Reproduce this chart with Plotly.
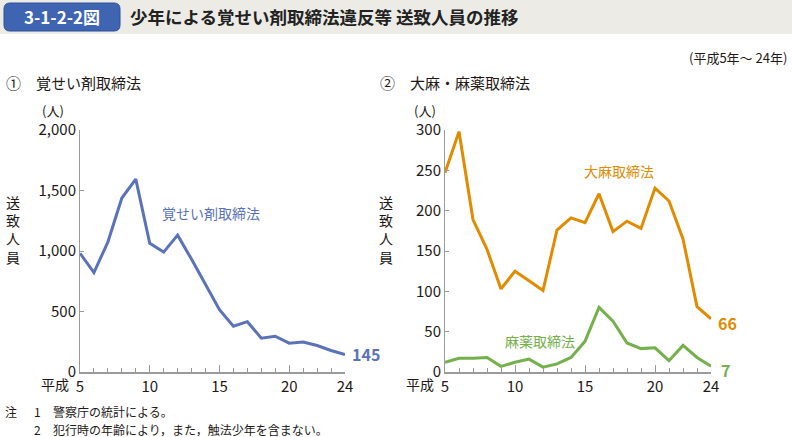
import plotly.graph_objects as go

years = list(range(5, 25))
stim = [981, 822, 1074, 1438, 1594, 1063, 991, 1131, 931, 726, 515, 378, 416, 279, 296, 238, 247, 219, 178, 145]
cannabis = [247, 298, 189, 152, 103, 125, 113, 101, 176, 191, 185, 221, 174, 187, 178, 228, 212, 165, 81, 66]
narcotics = [12, 17, 17, 18, 7, 12, 16, 6, 10, 18, 38, 80, 63, 36, 29, 30, 14, 33, 18, 7]
xtick_vals = [5, 10, 15, 20, 24]
xtick_text = ["5", "10", "15", "20", "24"]
ytick_left = [0, 500, 1000, 1500, 2000]
ytick_left_text = ["0", "500", "1,000", "1,500", "2,000"]
ytick_right = [0, 50, 100, 150, 200, 250, 300]

W, H = 792, 437
def px(x): return x / W
def py(y): return 1 - y / H

BLUE = "#5a72b8"
ORANGE = "#e08b00"
GREEN = "#74b04b"
TXT = "#231815"
AX = "#9a9a9a"
FONT = "Noto Sans CJK JP"

fig = go.Figure()
fig.add_trace(go.Scatter(x=years, y=stim, mode="lines", line=dict(color=BLUE, width=3),
                         xaxis="x", yaxis="y", hoverinfo="skip"))
fig.add_trace(go.Scatter(x=years, y=cannabis, mode="lines", line=dict(color=ORANGE, width=3),
                         xaxis="x2", yaxis="y2", hoverinfo="skip"))
fig.add_trace(go.Scatter(x=years, y=narcotics, mode="lines", line=dict(color=GREEN, width=3),
                         xaxis="x2", yaxis="y2", hoverinfo="skip"))

ydom = [py(372), py(130)]
xcommon = dict(range=[5, 24], tickvals=xtick_vals, ticktext=xtick_text, ticks="inside", ticklen=7,
               tickcolor=AX, showline=True, linecolor=AX, linewidth=2, showgrid=False, zeroline=False,
               automargin=False,
               tickfont=dict(family=FONT, size=15, color=TXT),
               minor=dict(dtick=1, tick0=5, ticks="inside", ticklen=4, tickcolor=AX, showgrid=False))
ycommon = dict(ticks="inside", ticklen=4, tickcolor=AX, showline=True, linecolor=AX, linewidth=1,
               automargin=False,
               showgrid=False, zeroline=False, tickfont=dict(family=FONT, size=15, color=TXT))

fig.update_layout(
    width=W, height=H, margin=dict(l=0, r=0, t=0, b=0, pad=0), autosize=False,
    paper_bgcolor="white", plot_bgcolor="rgba(0,0,0,0)", showlegend=False,
    xaxis=dict(domain=[px(80), px(345)], anchor="y", **xcommon),
    yaxis=dict(domain=ydom, anchor="x", range=[0, 2000], tickvals=ytick_left, ticktext=ytick_left_text, **ycommon),
    xaxis2=dict(domain=[px(445), px(711)], anchor="y2", **xcommon),
    yaxis2=dict(domain=ydom, anchor="x2", range=[0, 300], tickvals=ytick_right, **ycommon),
)

shapes = [
    dict(type="rect", xref="paper", yref="paper", x0=0, x1=1, y0=py(34), y1=1,
         fillcolor="#ecebe6", line=dict(width=0), layer="below"),
]
x0, x1, y0, y1, r = 4, 120, 3, 31, 6
path = (f"M {px(x0+r)},{py(y0)} L {px(x1-r)},{py(y0)} Q {px(x1)},{py(y0)} {px(x1)},{py(y0+r)} "
        f"L {px(x1)},{py(y1-r)} Q {px(x1)},{py(y1)} {px(x1-r)},{py(y1)} "
        f"L {px(x0+r)},{py(y1)} Q {px(x0)},{py(y1)} {px(x0)},{py(y1-r)} "
        f"L {px(x0)},{py(y0+r)} Q {px(x0)},{py(y0)} {px(x0+r)},{py(y0)} Z")
shapes.append(dict(type="path", xref="paper", yref="paper", path=path,
                   fillcolor="#3f64b2", line=dict(color="#2d4f99", width=1)))
fig.update_layout(shapes=shapes)

def ann(text, x, y, size=14, color=TXT, xanchor="left", yanchor="middle", bold=False, **kw):
    t = f"<b>{text}</b>" if bold else text
    fig.add_annotation(text=t, x=x, y=y, xref=kw.pop("xref", "paper"), yref=kw.pop("yref", "paper"),
                       xanchor=xanchor, yanchor=yanchor, showarrow=False,
                       font=dict(family=FONT, size=size, color=color), **kw)

ann("3-1-2-2図", px(62), py(17), size=17, color="white", xanchor="center", bold=True)
ann("少年による覚せい剤取締法違反等 送致人員の推移", px(128), py(17), size=17.5, color="#222222", bold=True)
ann("(平成5年～ 24年)", px(789), py(57), size=13, xanchor="right")
ann("①　覚せい剤取締法", px(4), py(82), size=15)
ann("②　大麻・麻薬取締法", px(378), py(82), size=15)
ann("(人)", px(40), py(111), size=13)
ann("(人)", px(412), py(111), size=13)
ann("送<br>致<br>人<br>員", px(13), py(229), size=14, xanchor="center")
ann("送<br>致<br>人<br>員", px(386), py(229), size=14, xanchor="center")
ann("平成", px(71), py(384), size=14, xanchor="right")
ann("平成", px(436), py(384), size=14, xanchor="right")

ann("覚せい剤取締法", 14.4, 1315, size=14, color=BLUE, xanchor="center", xref="x", yref="y")
ann("145", 24, stim[-1], size=16, color=BLUE, xshift=5, bold=True, xref="x", yref="y")
ann("大麻取締法", 17.4, 249, size=14, color=ORANGE, xanchor="center", xref="x2", yref="y2")
ann("66", 24, cannabis[-1], size=16, color=ORANGE, xshift=5, yshift=-4, bold=True, xref="x2", yref="y2")
ann("麻薬取締法", 11.8, 38, size=14, color=GREEN, xanchor="center", xref="x2", yref="y2")
ann("7", 24, narcotics[-1], size=16, color=GREEN, xshift=8, yshift=-4, bold=True, xref="x2", yref="y2")

ann("注", px(3), py(411), size=12)
ann("1", px(32), py(411), size=12)
ann("警察庁の統計による。", px(51), py(411), size=12)
ann("2", px(32), py(429), size=12)
ann("犯行時の年齢により，また，触法少年を含まない。", px(51), py(429), size=12)

fig.write_html("out.html", config={"displayModeBar": False},
               post_script="document.body.style.margin='0';")
